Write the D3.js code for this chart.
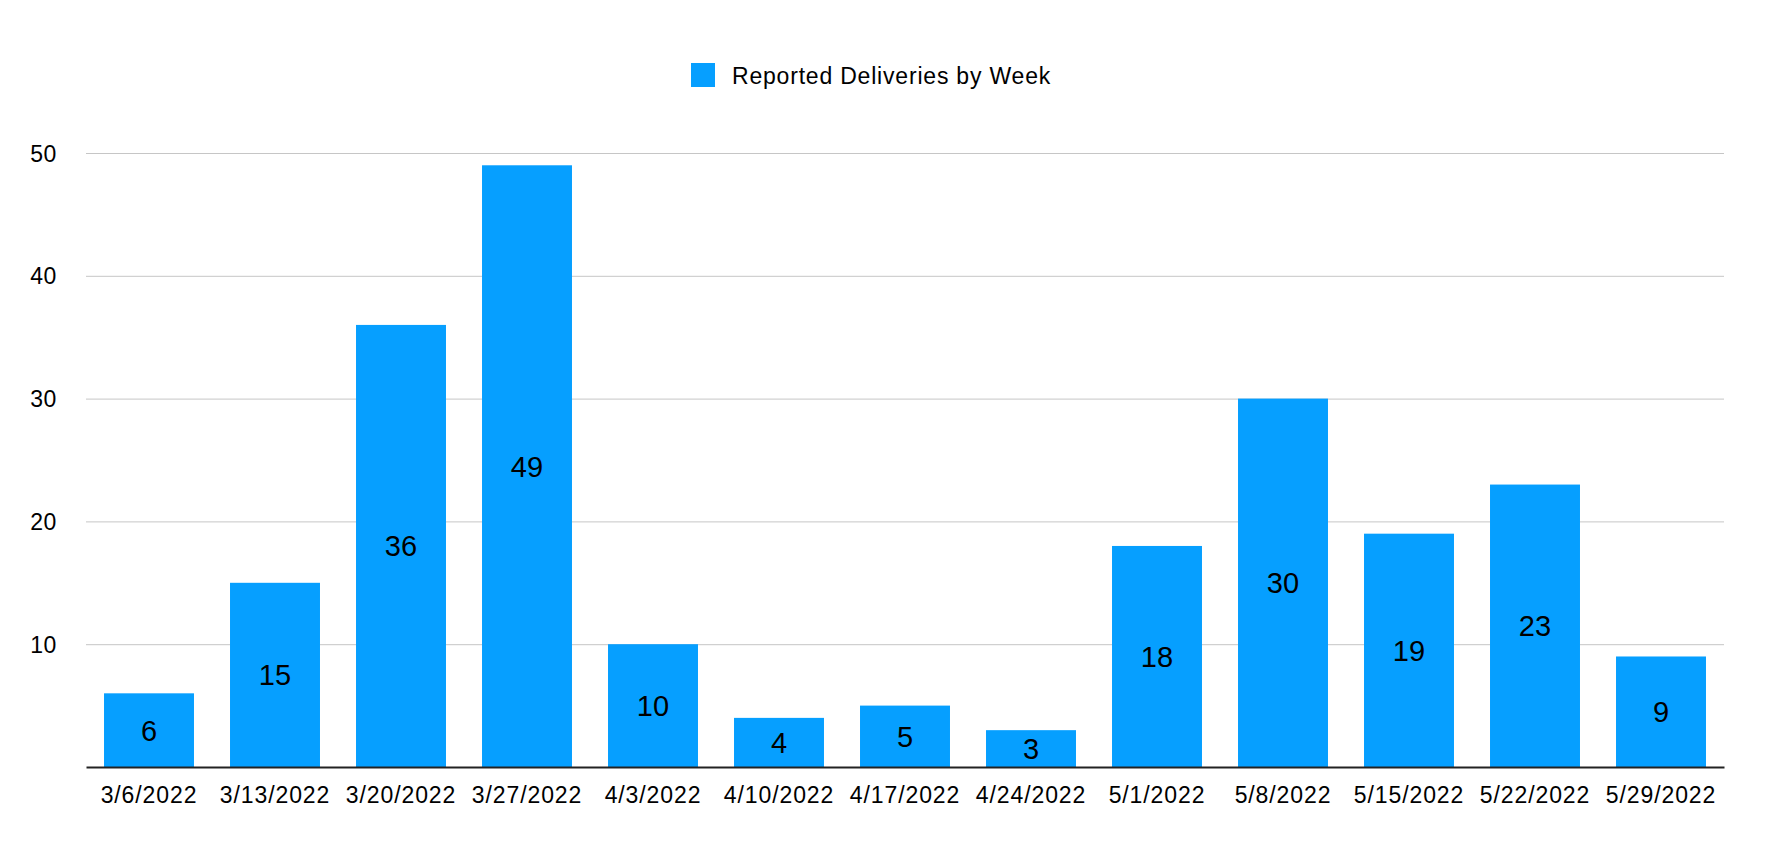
<!DOCTYPE html>
<html>
<head>
<meta charset="utf-8">
<script src="https://cdn.jsdelivr.net/npm/d3@7"></script>
<style>
  body { margin: 0; background: #fff; }
  svg text { font-family: "Liberation Sans", Arial, Helvetica, sans-serif; fill: #000; }
</style>
</head>
<body>
<div id="chart"></div>
<script>
var weeks = ["3/6/2022", "3/13/2022", "3/20/2022", "3/27/2022", "4/3/2022", "4/10/2022", "4/17/2022",
             "4/24/2022", "5/1/2022", "5/8/2022", "5/15/2022", "5/22/2022", "5/29/2022"];
var deliveries = [6, 15, 36, 49, 10, 4, 5, 3, 18, 30, 19, 23, 9];
var yTicks = [10, 20, 30, 40, 50];
var seriesName = "Reported Deliveries by Week";

var width = 1772, height = 848;
var margin = {top: 153, right: 48, bottom: 81, left: 86};
var barColor = "#069fff";

var svg = d3.select("#chart").append("svg")
    .attr("width", width)
    .attr("height", height);

var x = d3.scaleBand()
    .domain(weeks)
    .range([margin.left, width - margin.right])
    .paddingInner(0.286)
    .paddingOuter(0.143);

var y = d3.scaleLinear()
    .domain([0, 50])
    .range([height - margin.bottom, margin.top]);

// gridlines
svg.append("g")
    .selectAll("line")
    .data(yTicks)
  .enter().append("line")
    .attr("x1", margin.left)
    .attr("x2", width - margin.right)
    .attr("y1", function(d) { return y(d) + 0.5; })
    .attr("y2", function(d) { return y(d) + 0.5; })
    .attr("stroke", "#c6c6c6")
    .attr("stroke-width", 1);

// y labels
var yAxis = svg.append("g")
    .attr("transform", "translate(" + 57 + ",0)")
    .call(d3.axisLeft(y).tickValues(yTicks).tickSize(0).tickPadding(0));
yAxis.select(".domain").remove();
yAxis.selectAll("text")
    .attr("font-size", 23)
    .attr("letter-spacing", 0.6)
    .attr("font-family", null)
    .attr("dy", "0.35em");

// bars
svg.append("g")
    .selectAll("rect")
    .data(deliveries)
  .enter().append("rect")
    .attr("x", function(d, i) { return x(weeks[i]); })
    .attr("y", function(d) { return y(d); })
    .attr("width", x.bandwidth())
    .attr("height", function(d) { return y(0) - y(d); })
    .attr("fill", barColor);

// value labels centred in the bars
svg.append("g")
    .selectAll("text")
    .data(deliveries)
  .enter().append("text")
    .attr("x", function(d, i) { return x(weeks[i]) + x.bandwidth() / 2; })
    .attr("y", function(d) { return (y(d) + y(0)) / 2; })
    .attr("dy", "0.36em")
    .attr("text-anchor", "middle")
    .attr("font-size", 29)
    .text(function(d) { return d; });

// x axis
var xAxis = svg.append("g")
    .attr("transform", "translate(0," + y(0) + ")")
    .call(d3.axisBottom(x).tickSize(0).tickPadding(20));
xAxis.select(".domain")
    .attr("stroke", "#222")
    .attr("stroke-width", 2);
xAxis.selectAll("text")
    .attr("font-size", 23)
    .attr("letter-spacing", 0.9)
    .attr("font-family", null);

// legend
var legend = svg.append("g").attr("transform", "translate(691,63)");
legend.append("rect")
    .attr("width", 24)
    .attr("height", 24)
    .attr("fill", barColor);
legend.append("text")
    .attr("x", 41)
    .attr("y", 21)
    .attr("font-size", 23)
    .attr("letter-spacing", 0.8)
    .text(seriesName);
</script>
</body>
</html>
